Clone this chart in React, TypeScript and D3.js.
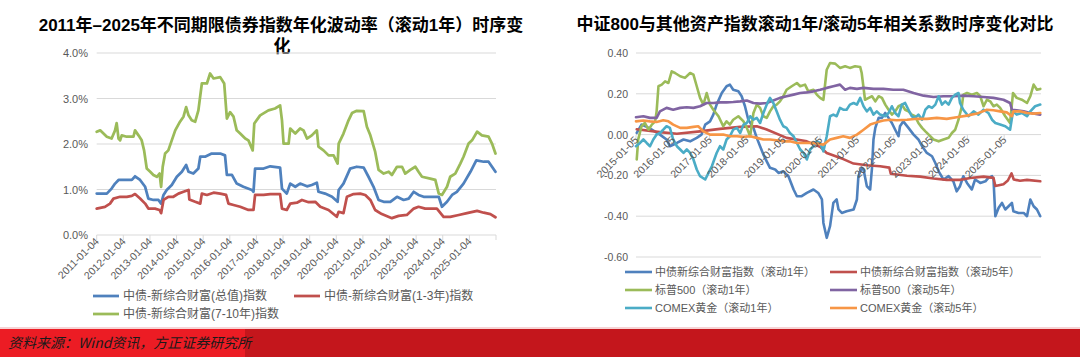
import React from 'react';
import * as d3 from 'd3';

type P = [number, number];

// ---------- Left chart data (decimal year, volatility %) ----------
const leftTitle1 = '2011年–2025年不同期限债券指数年化波动率（滚动1年）时序变';
const leftTitle2 = '化';
const leftXTicks = ['2011-01-04','2012-01-04','2013-01-04','2014-01-04','2015-01-04','2016-01-04','2017-01-04','2018-01-04','2019-01-04','2020-01-04','2021-01-04','2022-01-04','2023-01-04','2024-01-04','2025-01-04'];
const leftYTicks = [0, 1, 2, 3, 4];
const leftNames = ['中债-新综合财富(总值)指数', '中债-新综合财富(1-3年)指数', '中债-新综合财富(7-10年)指数'];
const leftColors = ['#4F81BD', '#C0504D', '#9BBB59'];

const leftTotal: P[] = [
  [2011.00,0.91],[2011.38,0.91],[2011.56,1.02],[2011.69,1.13],[2011.82,1.21],[2012.01,1.21],[2012.32,1.21],[2012.44,1.29],
  [2012.63,1.21],[2012.82,1.06],[2012.94,0.80],[2013.13,0.77],[2013.32,0.77],[2013.42,0.69],[2013.51,0.88],[2013.63,0.99],
  [2013.82,1.10],[2014.01,1.28],[2014.20,1.39],[2014.36,1.54],[2014.45,1.39],[2014.63,1.35],[2014.82,1.46],[2014.89,1.72],
  [2015.07,1.72],[2015.32,1.79],[2015.64,1.79],[2015.82,1.75],[2015.89,1.32],[2016.08,1.32],[2016.26,1.13],[2016.51,1.06],
  [2016.83,0.99],[2016.89,0.95],[2016.95,1.46],[2017.27,1.46],[2017.52,1.51],[2017.89,1.48],[2017.96,1.02],[2018.14,0.91],
  [2018.27,1.13],[2018.46,1.06],[2018.64,1.13],[2018.90,1.07],[2019.08,1.10],[2019.27,1.15],[2019.33,0.95],[2019.58,0.91],
  [2019.84,0.84],[2020.05,0.73],[2020.09,0.99],[2020.27,1.13],[2020.52,1.46],[2020.77,1.50],[2021.03,1.48],[2021.21,1.28],
  [2021.40,1.06],[2021.59,0.77],[2021.78,0.73],[2022.03,0.73],[2022.28,0.84],[2022.53,0.77],[2022.72,0.80],[2022.91,0.95],
  [2023.09,0.88],[2023.28,0.84],[2023.59,0.84],[2023.85,0.84],[2023.97,0.62],[2024.16,0.73],[2024.35,0.88],[2024.53,0.95],
  [2024.78,1.13],[2025.04,1.39],[2025.26,1.64],[2025.54,1.61],[2025.72,1.61],[2025.85,1.50],[2025.98,1.39],
];
const leftShort: P[] = [
  [2011.00,0.58],[2011.31,0.62],[2011.50,0.69],[2011.63,0.80],[2011.88,0.84],[2012.13,0.84],[2012.32,0.86],[2012.44,0.90],
  [2012.63,0.80],[2012.82,0.69],[2012.94,0.58],[2013.19,0.58],[2013.36,0.55],[2013.42,0.48],[2013.51,0.77],[2013.69,0.84],
  [2013.88,0.84],[2014.07,0.91],[2014.26,0.95],[2014.45,0.99],[2014.48,0.78],[2014.70,0.73],[2014.89,0.69],[2014.95,0.91],
  [2015.14,0.88],[2015.39,0.93],[2015.64,0.91],[2015.86,0.88],[2015.95,0.69],[2016.14,0.66],[2016.39,0.62],[2016.70,0.55],
  [2016.89,0.55],[2016.95,0.88],[2017.27,0.88],[2017.52,0.90],[2017.89,0.90],[2017.96,0.58],[2018.14,0.55],[2018.27,0.69],
  [2018.52,0.71],[2018.71,0.77],[2018.96,0.72],[2019.21,0.73],[2019.40,0.62],[2019.71,0.55],[2020.02,0.40],[2020.09,0.51],
  [2020.27,0.48],[2020.40,0.84],[2020.65,0.90],[2020.90,0.91],[2021.09,0.88],[2021.28,0.77],[2021.46,0.55],[2021.71,0.46],
  [2022.09,0.37],[2022.34,0.42],[2022.65,0.44],[2022.91,0.58],[2023.09,0.62],[2023.34,0.58],[2023.78,0.58],[2024.03,0.40],
  [2024.28,0.40],[2024.60,0.44],[2024.91,0.48],[2025.29,0.53],[2025.54,0.49],[2025.79,0.46],[2025.98,0.39],
];
const leftLong: P[] = [
  [2011.00,2.27],[2011.13,2.30],[2011.38,2.16],[2011.56,2.12],[2011.69,2.30],[2011.75,2.46],[2011.82,2.12],[2011.88,2.08],
  [2011.94,2.19],[2012.13,2.16],[2012.38,2.16],[2012.44,2.30],[2012.57,2.19],[2012.69,2.08],[2012.78,1.86],[2012.88,1.46],
  [2013.01,1.39],[2013.13,1.32],[2013.26,1.28],[2013.36,1.35],[2013.42,1.06],[2013.48,1.50],[2013.57,1.79],[2013.69,1.86],
  [2013.82,2.08],[2013.95,2.30],[2014.13,2.49],[2014.26,2.60],[2014.36,2.81],[2014.45,2.63],[2014.57,2.52],[2014.70,2.49],
  [2014.82,2.74],[2014.95,3.33],[2015.14,3.33],[2015.26,3.55],[2015.39,3.44],[2015.64,3.47],[2015.79,3.33],[2015.89,2.56],
  [2016.01,2.70],[2016.14,2.60],[2016.26,2.30],[2016.39,2.23],[2016.58,2.12],[2016.70,2.08],[2016.86,1.86],[2016.92,2.45],
  [2017.14,2.63],[2017.45,2.74],[2017.70,2.78],[2017.89,2.85],[2017.96,2.52],[2018.02,2.01],[2018.21,2.01],[2018.27,2.34],
  [2018.46,2.23],[2018.64,2.34],[2018.77,2.30],[2018.90,2.12],[2019.08,2.19],[2019.27,2.30],[2019.33,1.94],[2019.52,1.86],
  [2019.71,1.75],[2019.90,1.75],[2020.05,1.57],[2020.09,2.01],[2020.27,2.23],[2020.46,2.52],[2020.59,2.68],[2020.77,2.73],
  [2021.03,2.72],[2021.15,2.38],[2021.28,2.19],[2021.46,1.83],[2021.59,1.43],[2021.78,1.35],[2021.97,1.39],[2022.09,1.32],
  [2022.28,1.50],[2022.47,1.50],[2022.59,1.35],[2022.78,1.43],[2022.97,1.50],[2023.09,1.39],[2023.22,1.28],[2023.53,1.24],
  [2023.72,1.21],[2023.85,0.91],[2023.97,0.88],[2024.16,1.06],[2024.28,1.28],[2024.47,1.35],[2024.66,1.57],[2024.78,1.72],
  [2024.97,2.01],[2025.10,2.08],[2025.29,2.27],[2025.47,2.19],[2025.72,2.16],[2025.85,2.01],[2025.98,1.79],
];

// ---------- Right chart data (decimal year, correlation) ----------
const rightTitle = '中证800与其他资产指数滚动1年/滚动5年相关系数时序变化对比';
const rightXTicks = ['2015-01-05','2016-01-05','2017-01-05','2018-01-05','2019-01-05','2020-01-05','2021-01-05','2022-01-05','2023-01-05','2024-01-05','2025-01-05'];
const rightYTicks = [-0.6, -0.4, -0.2, 0, 0.2, 0.4];
const rightNames = ['中债新综合财富指数（滚动1年）','中债新综合财富指数（滚动5年）','标普500（滚动1年）','标普500（滚动5年）','COMEX黄金（滚动1年）','COMEX黄金（滚动5年）'];
const rightColors = ['#4F81BD', '#C0504D', '#9BBB59', '#8064A2', '#4BACC6', '#F79646'];

const bond1y: P[] = [
  [2015.02,0.008],[2015.15,0.049],[2015.29,0.038],[2015.43,0.024],[2015.65,0.0],[2015.83,-0.024],[2015.92,-0.057],[2016.11,-0.041],
  [2016.29,-0.024],[2016.47,-0.033],[2016.65,-0.016],[2016.78,0.0],[2016.88,0.049],[2017.01,0.065],[2017.10,0.098],[2017.19,0.147],
  [2017.33,0.204],[2017.46,0.237],[2017.55,0.245],[2017.64,0.220],[2017.78,0.212],[2017.87,0.188],[2017.96,0.139],[2018.05,0.073],
  [2018.19,0.033],[2018.28,-0.016],[2018.37,-0.057],[2018.46,-0.098],[2018.55,-0.131],[2018.64,-0.163],[2018.78,-0.171],[2018.87,-0.188],
  [2019.00,-0.180],[2019.14,-0.204],[2019.28,-0.269],[2019.37,-0.302],[2019.50,-0.302],[2019.64,-0.286],[2019.82,-0.269],[2019.95,-0.286],
  [2020.05,-0.318],[2020.09,-0.433],[2020.18,-0.506],[2020.27,-0.449],[2020.36,-0.335],[2020.45,-0.318],[2020.50,-0.367],[2020.59,-0.384],
  [2020.72,-0.376],[2020.91,-0.367],[2021.00,-0.318],[2021.04,-0.204],[2021.13,-0.163],[2021.18,-0.171],[2021.27,-0.253],[2021.36,-0.269],
  [2021.41,-0.163],[2021.45,-0.024],[2021.50,0.033],[2021.59,0.082],[2021.68,0.082],[2021.77,0.106],[2021.86,0.082],[2021.95,0.057],
  [2022.04,0.024],[2022.13,-0.008],[2022.17,0.041],[2022.26,0.065],[2022.40,0.033],[2022.54,0.0],[2022.67,-0.024],[2022.77,-0.057],
  [2022.90,-0.090],[2023.04,-0.106],[2023.13,-0.139],[2023.22,-0.180],[2023.35,-0.220],[2023.49,-0.204],[2023.62,-0.229],[2023.71,-0.278],
  [2023.80,-0.253],[2023.89,-0.204],[2023.99,-0.237],[2024.12,-0.269],[2024.21,-0.220],[2024.35,-0.237],[2024.49,-0.229],[2024.57,-0.212],
  [2024.67,-0.204],[2024.71,-0.220],[2024.76,-0.400],[2024.85,-0.359],[2024.94,-0.335],[2025.03,-0.367],[2025.12,-0.351],[2025.21,-0.335],
  [2025.25,-0.376],[2025.39,-0.384],[2025.53,-0.384],[2025.62,-0.400],[2025.71,-0.318],[2025.80,-0.351],[2025.89,-0.367],[2025.98,-0.400],
];
const bond5y: P[] = [
  [2015.02,0.026],[2015.65,0.012],[2016.11,0.004],[2016.74,0.016],[2017.28,0.028],[2017.83,0.038],[2018.28,0.041],[2018.55,0.025],
  [2019.09,-0.016],[2019.64,-0.033],[2020.00,-0.060],[2020.18,-0.090],[2020.63,-0.120],[2020.91,-0.142],[2021.27,-0.150],[2021.63,-0.155],
  [2021.88,-0.162],[2021.92,-0.192],[2022.36,-0.202],[2022.72,-0.206],[2023.08,-0.215],[2023.44,-0.222],[2023.80,-0.222],[2024.08,-0.213],
  [2024.44,-0.206],[2024.71,-0.212],[2024.76,-0.252],[2024.98,-0.243],[2025.10,-0.225],[2025.20,-0.190],[2025.26,-0.220],[2025.43,-0.226],
  [2025.62,-0.222],[2025.98,-0.229],
];
const spx1y: P[] = [
  [2015.02,-0.122],[2015.06,-0.024],[2015.15,0.041],[2015.24,0.057],[2015.34,0.024],[2015.43,0.049],[2015.52,0.065],[2015.56,0.114],
  [2015.61,0.237],[2015.70,0.245],[2015.79,0.261],[2015.88,0.253],[2015.97,0.310],[2016.06,0.302],[2016.20,0.286],[2016.33,0.278],
  [2016.47,0.302],[2016.56,0.294],[2016.65,0.237],[2016.74,0.180],[2016.83,0.147],[2016.92,0.204],[2017.01,0.147],[2017.10,0.122],
  [2017.24,0.090],[2017.37,0.041],[2017.46,0.065],[2017.55,0.049],[2017.64,0.073],[2017.78,0.090],[2017.92,0.065],[2018.01,0.033],
  [2018.10,-0.008],[2018.19,0.106],[2018.28,0.147],[2018.37,0.131],[2018.46,0.090],[2018.55,0.082],[2018.64,0.114],[2018.73,0.139],
  [2018.82,0.147],[2018.91,0.163],[2019.00,0.188],[2019.09,0.220],[2019.23,0.237],[2019.37,0.253],[2019.46,0.237],[2019.59,0.245],
  [2019.68,0.212],[2019.82,0.220],[2019.91,0.196],[2020.00,0.180],[2020.09,0.170],[2020.14,0.253],[2020.18,0.318],[2020.27,0.351],
  [2020.41,0.348],[2020.54,0.327],[2020.68,0.335],[2020.81,0.327],[2020.95,0.335],[2021.09,0.331],[2021.13,0.302],[2021.22,0.171],
  [2021.32,0.180],[2021.41,0.188],[2021.50,0.163],[2021.59,0.188],[2021.68,0.180],[2021.77,0.147],[2021.86,0.122],[2021.95,0.098],
  [2022.04,0.114],[2022.13,0.139],[2022.22,0.147],[2022.31,0.122],[2022.40,0.114],[2022.49,0.098],[2022.58,0.090],[2022.67,0.057],
  [2022.77,0.033],[2022.86,0.016],[2022.95,0.0],[2023.08,-0.024],[2023.22,-0.033],[2023.35,-0.024],[2023.49,-0.016],[2023.58,0.008],
  [2023.67,0.024],[2023.76,0.073],[2023.85,0.139],[2023.89,0.196],[2023.99,0.204],[2024.12,0.196],[2024.26,0.204],[2024.35,0.188],
  [2024.44,0.139],[2024.53,0.171],[2024.62,0.163],[2024.71,0.139],[2024.80,0.147],[2024.89,0.131],[2025.03,0.090],[2025.16,0.057],
  [2025.24,0.204],[2025.34,0.180],[2025.48,0.171],[2025.62,0.155],[2025.71,0.188],[2025.80,0.245],[2025.89,0.220],[2025.98,0.224],
];
const spx5y: P[] = [
  [2015.00,0.085],[2015.20,0.090],[2015.38,0.082],[2015.56,0.082],[2015.65,0.114],[2015.83,0.131],[2016.01,0.122],[2016.20,0.131],
  [2016.38,0.134],[2016.56,0.131],[2016.74,0.139],[2016.92,0.155],[2017.10,0.155],[2017.28,0.158],[2017.46,0.158],[2017.64,0.160],
  [2017.83,0.163],[2018.01,0.167],[2018.19,0.155],[2018.37,0.152],[2018.55,0.155],[2018.73,0.167],[2018.91,0.180],[2019.09,0.188],
  [2019.28,0.196],[2019.46,0.204],[2019.64,0.207],[2019.82,0.212],[2020.00,0.220],[2020.18,0.229],[2020.36,0.237],[2020.54,0.245],
  [2020.68,0.220],[2020.81,0.229],[2021.00,0.224],[2021.18,0.229],[2021.45,0.224],[2021.72,0.224],[2021.99,0.220],[2022.26,0.220],
  [2022.54,0.204],[2022.81,0.191],[2023.08,0.184],[2023.35,0.188],[2023.62,0.188],[2023.89,0.191],[2024.17,0.188],[2024.44,0.184],
  [2024.71,0.180],[2024.98,0.171],[2025.16,0.155],[2025.21,0.122],[2025.34,0.119],[2025.53,0.114],[2025.71,0.106],[2025.98,0.098],
];
const gold1y: P[] = [
  [2015.00,-0.057],[2015.11,-0.041],[2015.20,-0.024],[2015.29,-0.041],[2015.38,-0.057],[2015.47,-0.024],[2015.56,0.0],[2015.65,0.008],
  [2015.74,0.024],[2015.83,0.041],[2015.92,0.033],[2016.01,-0.024],[2016.11,-0.057],[2016.20,-0.073],[2016.29,-0.090],[2016.38,-0.073],
  [2016.47,-0.090],[2016.56,-0.122],[2016.65,-0.171],[2016.74,-0.204],[2016.88,-0.220],[2016.97,-0.188],[2017.06,-0.155],[2017.19,-0.090],
  [2017.28,-0.057],[2017.37,-0.073],[2017.46,-0.024],[2017.55,-0.008],[2017.64,0.024],[2017.74,0.033],[2017.83,0.008],[2017.92,0.049],
  [2018.01,0.057],[2018.10,0.090],[2018.19,0.073],[2018.28,0.082],[2018.37,0.057],[2018.46,0.106],[2018.55,0.147],[2018.64,0.180],
  [2018.73,0.155],[2018.82,0.114],[2018.91,0.073],[2019.00,0.041],[2019.09,0.033],[2019.18,0.008],[2019.28,-0.008],[2019.37,-0.041],
  [2019.46,-0.073],[2019.55,-0.090],[2019.64,-0.122],[2019.73,-0.073],[2019.82,-0.057],[2019.91,-0.033],[2020.00,-0.041],[2020.09,-0.082],
  [2020.18,-0.008],[2020.27,0.090],[2020.36,0.098],[2020.45,0.090],[2020.54,0.131],[2020.63,0.122],[2020.72,0.122],[2020.81,0.147],
  [2020.91,0.155],[2021.00,0.147],[2021.09,0.180],[2021.18,0.139],[2021.27,0.114],[2021.36,0.131],[2021.45,0.098],[2021.54,0.114],
  [2021.63,0.098],[2021.77,0.090],[2021.86,0.106],[2021.95,0.139],[2022.04,0.106],[2022.13,0.090],[2022.22,0.147],[2022.31,0.155],
  [2022.40,0.122],[2022.49,0.090],[2022.58,0.082],[2022.67,0.098],[2022.77,0.073],[2022.86,0.122],[2022.95,0.139],[2023.04,0.131],
  [2023.13,0.147],[2023.22,0.188],[2023.31,0.147],[2023.40,0.163],[2023.49,0.147],[2023.58,0.180],[2023.67,0.196],[2023.76,0.204],
  [2023.80,0.155],[2023.89,0.122],[2024.03,0.090],[2024.17,0.114],[2024.30,0.098],[2024.44,0.122],[2024.57,0.106],[2024.67,0.073],
  [2024.76,0.057],[2024.89,0.049],[2025.03,0.041],[2025.16,0.024],[2025.24,0.114],[2025.34,0.098],[2025.48,0.106],[2025.62,0.090],
  [2025.71,0.114],[2025.84,0.139],[2025.98,0.147],
];
const gold5y: P[] = [
  [2015.00,0.065],[2015.20,0.069],[2015.38,0.065],[2015.56,0.062],[2015.74,0.070],[2015.88,0.065],[2016.01,0.049],[2016.20,0.033],
  [2016.38,0.033],[2016.56,0.038],[2016.69,0.041],[2016.83,0.016],[2017.01,0.0],[2017.19,0.0],[2017.37,0.0],[2017.55,-0.008],
  [2017.74,-0.008],[2017.92,-0.011],[2018.10,-0.008],[2018.28,-0.016],[2018.46,-0.024],[2018.64,-0.024],[2018.82,-0.028],[2019.00,-0.033],
  [2019.18,-0.033],[2019.37,-0.041],[2019.55,-0.041],[2019.73,-0.041],[2019.91,-0.044],[2020.09,-0.049],[2020.27,-0.024],[2020.45,-0.016],
  [2020.63,-0.008],[2020.81,-0.016],[2021.00,0.0],[2021.18,0.024],[2021.36,0.049],[2021.54,0.060],[2021.72,0.069],[2021.90,0.073],
  [2022.08,0.070],[2022.36,0.073],[2022.63,0.078],[2022.90,0.077],[2023.17,0.082],[2023.44,0.077],[2023.71,0.085],[2023.99,0.093],
  [2024.26,0.103],[2024.53,0.122],[2024.71,0.119],[2024.89,0.114],[2025.07,0.109],[2025.21,0.090],[2025.25,0.114],[2025.43,0.114],
  [2025.62,0.106],[2025.80,0.103],[2025.98,0.106],
];

const sourceText = '资料来源：Wind资讯，方正证券研究所';

const AXIS_FONT = "'Liberation Sans', Arial, 'Noto Sans CJK SC', sans-serif";
const TEXT_GRAY = '#595959';
const GRID = '#D9D9D9';

export default function App() {
  // Left chart scales
  const lx = d3.scaleLinear().domain([2011, 2026]).range([96.7, 496]);
  const ly = d3.scaleLinear().domain([0, 4]).range([235, 53]);
  const lLine = d3.line<P>().x(d => lx(d[0])).y(d => ly(d[1]));
  const leftSeries = [leftTotal, leftShort, leftLong];

  // Right chart scales
  const rx = d3.scaleLinear().domain([2015, 2026]).range([636, 1041]);
  const ry = d3.scaleLinear().domain([-0.6, 0.4]).range([257, 53]);
  const rLine = d3.line<P>().x(d => rx(d[0])).y(d => ry(d[1]));
  const rightSeries = [bond1y, bond5y, spx1y, spx5y, gold1y, gold5y];

  const yearOf = (s: string) => +s.slice(0, 4);

  const leftLegendPos = [[93, 296], [294, 296], [93, 314]];
  const rightLegendPos = [[625, 272], [830, 272], [625, 290], [830, 290], [625, 308], [830, 308]];

  return (
    <svg width={1080} height={357} style={{ position: 'absolute', left: 0, top: 0, background: '#fff' }}
      xmlns="http://www.w3.org/2000/svg">
      <rect x={0} y={0} width={1080} height={357} fill="#fff" />

      {/* ---------- Left chart ---------- */}
      <text x={281} y={31} textAnchor="middle" fontSize={17} fontWeight="bold"
        fontFamily={AXIS_FONT} fill="#000">{leftTitle1}</text>
      <text x={282} y={52} textAnchor="middle" fontSize={17} fontWeight="bold"
        fontFamily={AXIS_FONT} fill="#000">{leftTitle2}</text>

      {leftYTicks.map(t => (
        <g key={'ly' + t}>
          <line x1={lx(2011)} x2={lx(2026)} y1={ly(t)} y2={ly(t)} stroke={GRID} strokeWidth={1} />
          <text x={88} y={ly(t) + 4} textAnchor="end" fontSize={11} fontFamily={AXIS_FONT} fill={TEXT_GRAY}>
            {t.toFixed(1) + '%'}
          </text>
        </g>
      ))}
      {leftXTicks.map(s => {
        const x = lx(yearOf(s));
        return (
          <g key={'lx' + s}>
            <line x1={x} x2={x} y1={ly(0)} y2={ly(0) + 5} stroke={GRID} strokeWidth={1} />
            <text transform={`translate(${x + 3},${ly(0) + 7}) rotate(-45)`} textAnchor="end" fontSize={10.5}
              fontFamily={AXIS_FONT} fill={TEXT_GRAY}>{s}</text>
          </g>
        );
      })}
      <line x1={lx(2026)} x2={lx(2026)} y1={ly(0)} y2={ly(0) + 5} stroke={GRID} strokeWidth={1} />
      {leftSeries.map((s, i) => (
        <path key={'lp' + i} d={lLine(s) || ''} fill="none" stroke={leftColors[i]} strokeWidth={2.75}
          strokeLinejoin="round" strokeLinecap="round" />
      ))}
      {leftNames.map((n, i) => (
        <g key={'ll' + i}>
          <line x1={leftLegendPos[i][0]} x2={leftLegendPos[i][0] + 26} y1={leftLegendPos[i][1]} y2={leftLegendPos[i][1]}
            stroke={leftColors[i]} strokeWidth={2.75} />
          <text x={leftLegendPos[i][0] + 30} y={leftLegendPos[i][1] + 4} fontSize={12} fontFamily={AXIS_FONT} fill={TEXT_GRAY}>{n}</text>
        </g>
      ))}

      {/* ---------- Right chart ---------- */}
      <text x={815} y={30} textAnchor="middle" fontSize={17} fontWeight="bold"
        fontFamily={AXIS_FONT} fill="#000">{rightTitle}</text>

      {rightYTicks.map(t => (
        <g key={'ry' + t}>
          <line x1={rx(2015)} x2={rx(2026)} y1={ry(t)} y2={ry(t)} stroke={GRID} strokeWidth={1} />
          <text x={628} y={ry(t) + 4} textAnchor="end" fontSize={10.5} fontFamily={AXIS_FONT} fill={TEXT_GRAY}>
            {t.toFixed(2)}
          </text>
        </g>
      ))}
      {rightXTicks.map(s => {
        const x = rx(yearOf(s));
        return (
          <g key={'rx' + s}>
            <line x1={x} x2={x} y1={ry(0)} y2={ry(0) + 4} stroke={GRID} strokeWidth={1} />
          </g>
        );
      })}
      {rightSeries.map((s, i) => (
        <path key={'rp' + i} d={rLine(s) || ''} fill="none" stroke={rightColors[i]} strokeWidth={2.6}
          strokeLinejoin="round" strokeLinecap="round" />
      ))}
      {rightXTicks.map(s => {
        const x = rx(yearOf(s));
        return (
          <text key={'rxt' + s} transform={`translate(${x + 3},${ry(0) + 6}) rotate(-45)`} textAnchor="end" fontSize={10.5}
            fontFamily={AXIS_FONT} fill={TEXT_GRAY}>{s}</text>
        );
      })}
      {rightNames.map((n, i) => (
        <g key={'rl' + i}>
          <line x1={rightLegendPos[i][0]} x2={rightLegendPos[i][0] + 27} y1={rightLegendPos[i][1]} y2={rightLegendPos[i][1]}
            stroke={rightColors[i]} strokeWidth={2.6} />
          <text x={rightLegendPos[i][0] + 30} y={rightLegendPos[i][1] + 4} fontSize={11} fontFamily={AXIS_FONT} fill={TEXT_GRAY}>{n}</text>
        </g>
      ))}

      {/* ---------- Footer ---------- */}
      <rect x={0} y={327} width={1080} height={2} fill="#F6D3D5" />
      <rect x={0} y={329} width={1080} height={28} fill="#C4161C" />
      <rect x={0} y={329} width={245} height={28} fill="#EC1C24" />
      <text x={8} y={348} fontSize={14} fontStyle="italic" fontFamily="'Noto Sans CJK SC', sans-serif" fill="#1a1a1a">{sourceText}</text>
    </svg>
  );
}
